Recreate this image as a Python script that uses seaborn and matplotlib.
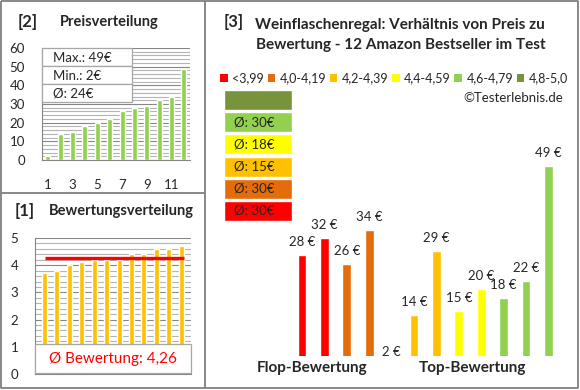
import numpy as np
import pandas as pd
import seaborn as sns
import matplotlib
matplotlib.use("Agg")
from matplotlib import pyplot as plt
from matplotlib.patches import Rectangle, Patch

# --- data -------------------------------------------------------------
preise = [2, 14, 15, 18, 20, 22, 26, 28, 29, 32, 34, 49]
preis_ticks = [1, 3, 5, 7, 9, 11]
bewertungen = [3.7, 3.8, 4.0, 4.1, 4.2, 4.2, 4.2, 4.4, 4.4, 4.6, 4.6, 4.7]
avg_bewertung = 4.26

produkt_preise = [28, 32, 26, 34, 2, 14, 29, 15, 20, 18, 22, 49]
produkt_farben = ['#FF0000', '#FF0000', '#E46C0A', '#E46C0A', '#FFFFFF', '#FFC000',
                  '#FFC000', '#FFFF00', '#FFFF00', '#92D050', '#92D050', '#92D050']
gruppen = ['Flop-Bewertung', 'Top-Bewertung']

legend_labels = ['<3,99', '4,0-4,19', '4,2-4,39', '4,4-4,59', '4,6-4,79', '4,8-5,0']
legend_colors = ['#FF0000', '#E46C0A', '#FFC000', '#FFFF00', '#92D050', '#77933C']

schnitt_texte = ['', 'Ø: 30€', 'Ø: 18€', 'Ø: 15€', 'Ø: 30€', 'Ø: 30€']
schnitt_farben = ['#77933C', '#92D050', '#FFFF00', '#FFC000', '#E46C0A', '#FF0000']

W, H = 580, 390
FRAME = '#7F7F7F'

sns.set_style('white')
plt.rcParams['font.family'] = ['Lato', 'DejaVu Sans']


def rect(x0, y0, x1, y1):
    # pixel box -> figure fraction
    return [x0 / W, 1 - y1 / H, (x1 - x0) / W, (y1 - y0) / H]


def style_grid(ax, minor, major):
    ax.set_yticks(np.arange(ax.get_ylim()[0], ax.get_ylim()[1] + 1e-9, minor), minor=True)
    ax.grid(axis='y', which='minor', color='#B4B4B4', lw=0.8)
    ax.grid(axis='y', which='major', color='#868686', lw=0.8)
    ax.set_axisbelow(True)
    for s in ['top', 'right']:
        ax.spines[s].set_visible(False)
    for s in ['left', 'bottom']:
        ax.spines[s].set_color('#868686')
        ax.spines[s].set_linewidth(0.8)
    ax.tick_params(axis='y', which='minor', length=0)
    ax.tick_params(axis='y', which='major', length=3, color='#868686', pad=9, labelsize=9.5)
    ax.set_xlabel('')
    ax.set_ylabel('')


fig = plt.figure(figsize=(W / 100, H / 100), dpi=100)

# --- [2] Preisverteilung ----------------------------------------------
ax2 = fig.add_axes(rect(41.7, 48, 190, 160))
sns.barplot(x=list(range(len(preise))), y=preise, color='#92D050', width=0.4,
            saturation=1, ax=ax2)
ax2.set_ylim(0, 60)
ax2.set_yticks(range(0, 61, 10))
ax2.set_xticks([t - 1 for t in preis_ticks], [str(t) for t in preis_ticks])
ax2.tick_params(axis='x', length=0, pad=14, labelsize=9.5)
style_grid(ax2, 2, 10)

# --- [1] Bewertungsverteilung -----------------------------------------
ax1 = fig.add_axes(rect(35, 238, 190.7, 374))
sns.barplot(x=list(range(len(bewertungen))), y=bewertungen, color='#FFC000', width=0.4,
            saturation=1, ax=ax1)
ax1.hlines(avg_bewertung, 0, len(bewertungen) - 0.8, color='#FF0000', lw=2.4, zorder=4)
ax1.set_ylim(0, 5)
ax1.set_yticks(range(0, 6))
ax1.set_xticks([])
style_grid(ax1, 0.2, 1)

# --- [3] Preis / Bewertung --------------------------------------------
n = len(produkt_preise)
step = 22.4
x0px = 302
ymin = 4.37
ax3 = fig.add_axes(rect(280, 150, 570, 356))
df3 = pd.DataFrame({'pos': range(n), 'preis': produkt_preise})
sns.barplot(data=df3, x='pos', y='preis', hue='pos', palette=produkt_farben,
            width=0.4, saturation=1, legend=False, ax=ax3)
ax3.set_xlim((280 - x0px) / step, (570 - x0px) / step)
ax3.set_ylim(ymin, ymin + 206 / 4.26)
ax3.axis('off')
for i, v in enumerate(produkt_preise):
    if v > ymin:
        ax3.annotate(f'{v} €', (i, v), xytext=(0, 9.5), textcoords='offset points',
                     ha='center', va='center', fontsize=9.5)
    else:
        ax3.annotate(f'{v} €', (i, ymin), xytext=(0, 3), textcoords='offset points',
                     ha='center', va='center', fontsize=9.5)
for gx, label in zip([0.45, 7.63], gruppen):
    ax3.text(gx, -0.06, label, transform=ax3.get_xaxis_transform(), ha='center',
             va='center', fontsize=11, fontweight='bold')

# Ø boxes
axb = fig.add_axes(rect(224, 89, 292, 222))
yb = list(range(len(schnitt_farben)))
axb.barh(yb, [1] * len(yb), height=0.9, color=schnitt_farben)
axb.set_xlim(0, 1)
axb.set_ylim(len(yb) - 0.5, -0.5)
axb.axis('off')
for i, t in enumerate(schnitt_texte):
    axb.text(0.15, i, t, va='center', ha='left', fontsize=9.5)

# legend
handles = [Patch(facecolor=c, edgecolor='none') for c in legend_colors]
fig.legend(handles, legend_labels, loc='center', bbox_to_anchor=(394 / W, 1 - 78 / H),
           ncol=6, frameon=False, fontsize=9, handlelength=0.6, handleheight=0.6,
           handletextpad=0.35, columnspacing=0.3, borderpad=0)

# --- overlay: frames, titles, boxes ------------------------------------
bg = fig.add_axes([0, 0, 1, 1], zorder=10)
bg.set_xlim(0, W)
bg.set_ylim(H, 0)
bg.axis('off')
bg.patch.set_alpha(0)
kw = dict(color=FRAME, lw=1.3, solid_capstyle='butt')
bg.plot([1, 578, 578, 1, 1], [1, 1, 388, 388, 1], **kw)
bg.plot([205, 205], [1, 388], **kw)
bg.plot([1, 205], [193, 193], **kw)

bg.text(28, 22, '[2]', ha='center', va='center', fontsize=12, fontweight='bold')
bg.text(109, 22, 'Preisverteilung', ha='center', va='center', fontsize=10.5, fontweight='bold')
bg.text(25, 211, '[1]', ha='center', va='center', fontsize=12, fontweight='bold')
bg.text(121, 211, 'Bewertungsverteilung', ha='center', va='center', fontsize=10.5,
        fontweight='bold')
bg.text(234, 22, '[3]', ha='center', va='center', fontsize=12, fontweight='bold')
bg.text(400, 25, 'Weinflaschenregal: Verhältnis von Preis zu', ha='center', va='center',
        fontsize=11, fontweight='bold')
bg.text(401, 45, 'Bewertung - 12 Amazon Bestseller im Test', ha='center', va='center',
        fontsize=11, fontweight='bold')
bg.text(563, 98, '©Testerlebnis.de', ha='right', va='center', fontsize=9.5)

# stats box in [2]
stats = [f'Max.: {max(preise)}€', f'Min.: {min(preise)}€',
         f'Ø: {round(sum(preise) / len(preise))}€']
for i, t in enumerate(stats):
    y = 48 + 18 * i
    bg.add_patch(Rectangle((41.5, y), 90, 18, facecolor='white', edgecolor='#A6A6A6', lw=0.9))
    bg.text(53, y + 9.5, t, ha='left', va='center', fontsize=9.5)

# average box in [1]
bg.add_patch(Rectangle((35, 344), 156, 29, facecolor='white', edgecolor='#A6A6A6', lw=0.9))
bg.text(113, 358.5, 'Ø Bewertung: ' + f'{avg_bewertung:.2f}'.replace('.', ','),
        ha='center', va='center', fontsize=11, color='#FF0000')

fig.savefig('out.png', dpi=100)
